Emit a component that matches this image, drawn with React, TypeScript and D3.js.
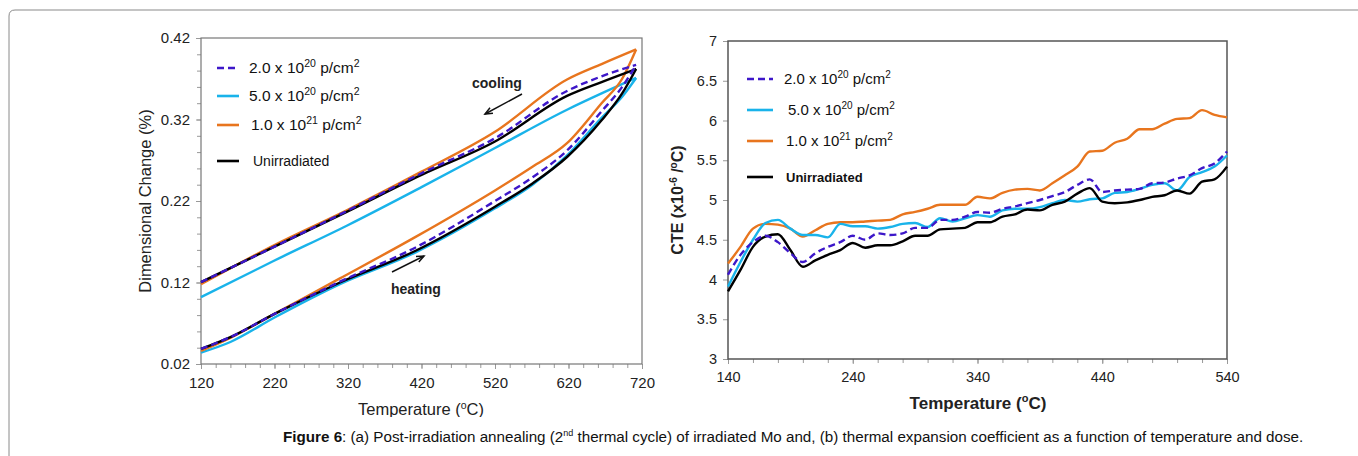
import React, { useEffect, useRef } from "react";
import * as d3 from "d3";

// (a) dimensional change loops, temperature (oC) vs change (%)
const heatT = [120, 160, 220, 309, 412, 520, 571, 618, 665, 693, 712];
const coolT = [712, 665, 618, 520, 420, 319, 220, 120];

const unirrHeat = [0.0385, 0.053, 0.0815, 0.12, 0.159, 0.213, 0.2415, 0.274, 0.319, 0.352, 0.382];
const unirrCool = [0.382, 0.366, 0.349, 0.293, 0.252, 0.207, 0.164, 0.1205];
const d2e20Heat = [0.0385, 0.053, 0.0815, 0.121, 0.163, 0.22, 0.249, 0.282, 0.33, 0.36, 0.387];
const d2e20Cool = [0.387, 0.373, 0.355, 0.297, 0.254, 0.208, 0.164, 0.1205];
const d5e20Heat = [0.034, 0.047, 0.077, 0.118, 0.157, 0.211, 0.24, 0.276, 0.322, 0.348, 0.371];
const d5e20Cool = [0.371, 0.352, 0.332, 0.285, 0.237, 0.19, 0.147, 0.102];
const d1e21Heat = [0.036, 0.052, 0.0815, 0.125, 0.176, 0.233, 0.262, 0.291, 0.34, 0.37, 0.406];
const d1e21Cool = [0.406, 0.388, 0.369, 0.305, 0.256, 0.209, 0.166, 0.118];

// (b) CTE (x10^-6 /oC) from 140 to 540 oC, 10 oC steps
const cteT = d3.range(140, 541, 10);
const cteUnirr = [3.85, 4.12, 4.41, 4.54, 4.57, 4.37, 4.16, 4.24, 4.31, 4.37, 4.46, 4.4, 4.43, 4.43, 4.48, 4.55, 4.55, 4.63, 4.64, 4.65, 4.72, 4.72, 4.79, 4.82, 4.88, 4.87, 4.94, 4.98, 5.08, 5.15, 4.98, 4.96, 4.97, 5.0, 5.04, 5.06, 5.12, 5.08, 5.23, 5.26, 5.42];
const cte1e21 = [4.2, 4.41, 4.64, 4.7, 4.69, 4.64, 4.54, 4.62, 4.7, 4.72, 4.72, 4.73, 4.74, 4.75, 4.82, 4.85, 4.89, 4.94, 4.94, 4.94, 5.04, 5.02, 5.09, 5.13, 5.14, 5.12, 5.21, 5.31, 5.42, 5.61, 5.62, 5.72, 5.77, 5.89, 5.89, 5.96, 6.02, 6.03, 6.13, 6.07, 6.04];
const cte5e20 = [3.91, 4.22, 4.5, 4.71, 4.75, 4.64, 4.56, 4.56, 4.53, 4.7, 4.67, 4.67, 4.64, 4.66, 4.7, 4.71, 4.66, 4.77, 4.73, 4.77, 4.81, 4.79, 4.87, 4.89, 4.89, 4.91, 4.96, 5.0, 4.98, 5.01, 5.02, 5.09, 5.1, 5.14, 5.19, 5.21, 5.12, 5.29, 5.35, 5.42, 5.56];
const cte2e20 = [4.06, 4.31, 4.47, 4.55, 4.47, 4.33, 4.22, 4.33, 4.41, 4.47, 4.55, 4.5, 4.58, 4.56, 4.58, 4.65, 4.65, 4.75, 4.75, 4.79, 4.85, 4.84, 4.89, 4.92, 4.96, 5.0, 5.05, 5.1, 5.19, 5.26, 5.1, 5.12, 5.13, 5.14, 5.21, 5.22, 5.27, 5.31, 5.4, 5.46, 5.61];

const leftYTicks = [0.02, 0.12, 0.22, 0.32, 0.42];
const leftXTicks = [120, 220, 320, 420, 520, 620, 720];
const rightYTicks = [3, 3.5, 4, 4.5, 5, 5.5, 6, 6.5, 7];
const rightXTicks = [140, 240, 340, 440, 540];

const PURPLE = "#3d17c9";
const BLUE = "#19b3ea";
const ORANGE = "#e8751e";
const BLACK = "#000";
const FONT = "'Liberation Sans', Arial, sans-serif";

const App = () => {
  const ref = useRef<SVGSVGElement>(null);

  useEffect(() => {
    const svg = d3.select(ref.current);
    svg.selectAll("*").remove();

    // page frame
    svg.append("path")
      .attr("d", "M9,456 L9,16 Q9,10 15,10")
      .attr("fill", "none").attr("stroke", "#8a8a8a").attr("stroke-width", 1);
    svg.append("line")
      .attr("x1", 15).attr("x2", 1358).attr("y1", 10).attr("y2", 10)
      .attr("stroke", "#c4c4c4").attr("stroke-width", 2);

    const defs = svg.append("defs");
    defs.append("clipPath").attr("id", "cutA")
      .append("rect").attr("x", 0).attr("y", 0).attr("width", 680).attr("height", 417);

    // ---------- (a) ----------
    const a = svg.append("g").attr("clip-path", "url(#cutA)");
    const xa = d3.scaleLinear().domain([120, 720]).range([201, 642]);
    const ya = d3.scaleLinear().domain([0.02, 0.42]).range([364, 38]);

    const axA = a.append("g");
    axA.append("g").attr("transform", "translate(0,364)")
      .call(d3.axisBottom(xa).tickValues(d3.range(120, 721, 20)).tickSize(4).tickFormat(() => ""))
      .call((g) => g.select(".domain").remove());
    axA.append("g").attr("transform", "translate(0,364)")
      .call(d3.axisBottom(xa).tickValues(leftXTicks).tickSize(5).tickPadding(8).tickFormat(d3.format("d")))
      .call((g) => g.select(".domain").remove());
    axA.append("g").attr("transform", "translate(201,0)")
      .call(d3.axisLeft(ya).tickValues(d3.range(0.02, 0.4201, 0.02)).tickSize(4).tickFormat(() => ""))
      .call((g) => g.select(".domain").remove());
    axA.append("g").attr("transform", "translate(201,0)")
      .call(d3.axisLeft(ya).tickValues(leftYTicks).tickSize(5).tickPadding(6).tickFormat(d3.format(".2f")))
      .call((g) => g.select(".domain").remove());
    axA.selectAll(".tick line").attr("stroke", "#999");
    axA.selectAll(".tick text").attr("font-size", 15).attr("fill", "#222").attr("font-family", FONT);

    a.append("rect").attr("x", 201).attr("y", 38).attr("width", 441).attr("height", 326)
      .attr("fill", "none").attr("stroke", "#777").attr("stroke-width", 1.2);

    const loops = [
      { heat: d5e20Heat, cool: d5e20Cool, color: BLUE, dash: null },
      { heat: d1e21Heat, cool: d1e21Cool, color: ORANGE, dash: null },
      { heat: unirrHeat, cool: unirrCool, color: BLACK, dash: null },
      { heat: d2e20Heat, cool: d2e20Cool, color: PURPLE, dash: "7,4" },
    ];
    loops.forEach((s) => {
      [
        { t: heatT, v: s.heat },
        { t: coolT.slice().reverse(), v: s.cool.slice().reverse() },
      ].forEach((seg) => {
        const l = d3.line<number>()
          .x((_, i) => xa(seg.t[i]))
          .y((d) => ya(d))
          .curve(d3.curveMonotoneX);
        a.append("path").attr("d", l(seg.v) || "")
          .attr("fill", "none").attr("stroke", s.color)
          .attr("stroke-width", 2.4)
          .attr("stroke-dasharray", s.dash);
      });
    });

    // legend (a)
    const legA = [
      { label: "2.0 x 10", sup: "20", tail: " p/cm", color: PURPLE, dash: "7,4" },
      { label: "5.0 x 10", sup: "20", tail: " p/cm", color: BLUE, dash: null },
      { label: "1.0 x 10", sup: "21", tail: " p/cm", color: ORANGE, dash: null },
    ];
    const legAy = [68, 96, 125];
    legA.forEach((d, i) => {
      a.append("line").attr("x1", 217).attr("x2", 239).attr("y1", legAy[i]).attr("y2", legAy[i])
        .attr("stroke", d.color).attr("stroke-width", 2.6).attr("stroke-dasharray", d.dash);
      const t = a.append("text").attr("x", 249 + (i === 2 ? 2 : 0)).attr("y", legAy[i] + 5)
        .attr("font-family", FONT).attr("font-size", 15.5).attr("fill", "#111");
      t.append("tspan").text(d.label);
      t.append("tspan").attr("dy", -6).attr("font-size", 10.5).text(d.sup);
      t.append("tspan").attr("dy", 6).text(d.tail);
      t.append("tspan").attr("dy", -6).attr("font-size", 10.5).text("2");
    });
    a.append("line").attr("x1", 217).attr("x2", 239).attr("y1", 161).attr("y2", 161)
      .attr("stroke", BLACK).attr("stroke-width", 2.6);
    a.append("text").attr("x", 253).attr("y", 166).attr("font-family", FONT)
      .attr("font-size", 14).attr("fill", "#111").text("Unirradiated");

    // annotations
    const arrow = (x1: number, y1: number, x2: number, y2: number) => {
      a.append("line").attr("x1", x1).attr("y1", y1).attr("x2", x2).attr("y2", y2)
        .attr("stroke", "#111").attr("stroke-width", 1.5);
      const ang = Math.atan2(y2 - y1, x2 - x1);
      const p = [
        [x2 - 8 * Math.cos(ang - 0.4), y2 - 8 * Math.sin(ang - 0.4)],
        [x2, y2],
        [x2 - 8 * Math.cos(ang + 0.4), y2 - 8 * Math.sin(ang + 0.4)],
      ];
      a.append("polyline").attr("points", p.map((q) => q.join(",")).join(" "))
        .attr("fill", "none").attr("stroke", "#111").attr("stroke-width", 1.5);
    };
    a.append("text").attr("x", 472).attr("y", 88).attr("font-family", FONT)
      .attr("font-size", 14).attr("font-weight", "bold").attr("fill", "#222").text("cooling");
    arrow(522, 94, 485, 114);
    a.append("text").attr("x", 391).attr("y", 294).attr("font-family", FONT)
      .attr("font-size", 14).attr("font-weight", "bold").attr("fill", "#222").text("heating");
    arrow(392, 272, 424, 256);

    a.append("text").attr("transform", "translate(151,201) rotate(-90)")
      .attr("text-anchor", "middle").attr("font-family", FONT).attr("font-size", 16.5)
      .attr("fill", "#222").text("Dimensional Change (%)");
    const xl = a.append("text").attr("x", 421).attr("y", 415).attr("text-anchor", "middle")
      .attr("font-family", FONT).attr("font-size", 16.5).attr("fill", "#222");
    xl.append("tspan").text("Temperature (");
    xl.append("tspan").attr("dy", -6).attr("font-size", 10.5).text("o");
    xl.append("tspan").attr("dy", 6).text("C)");

    // ---------- (b) ----------
    const b = svg.append("g");
    const xb = d3.scaleLinear().domain([140, 540]).range([728, 1227]);
    const yb = d3.scaleLinear().domain([3, 7]).range([359, 41]);

    const axB = b.append("g");
    axB.append("g").attr("transform", "translate(0,359)")
      .call(d3.axisBottom(xb).tickValues(d3.range(140, 541, 20)).tickSize(4).tickFormat(() => ""))
      .call((g) => g.select(".domain").remove());
    axB.append("g").attr("transform", "translate(0,359)")
      .call(d3.axisBottom(xb).tickValues(rightXTicks).tickSize(5).tickPadding(8).tickFormat(d3.format("d")))
      .call((g) => g.select(".domain").remove());
    axB.append("g").attr("transform", "translate(728,0)")
      .call(d3.axisLeft(yb).tickValues(rightYTicks).tickSize(5).tickPadding(6).tickFormat((d) => String(d)))
      .call((g) => g.select(".domain").remove());
    axB.selectAll(".tick line").attr("stroke", "#999");
    axB.selectAll(".tick text").attr("font-size", 14.5).attr("fill", "#222").attr("font-family", FONT);

    b.append("rect").attr("x", 728).attr("y", 41).attr("width", 499).attr("height", 318)
      .attr("fill", "none").attr("stroke", "#555").attr("stroke-width", 1.5);

    const cteSeries = [
      { v: cte1e21, color: ORANGE, dash: null },
      { v: cte5e20, color: BLUE, dash: null },
      { v: cteUnirr, color: BLACK, dash: null },
      { v: cte2e20, color: PURPLE, dash: "7,4" },
    ];
    const lineB = d3.line<number>()
      .x((_, i) => xb(cteT[i]))
      .y((d) => yb(d))
      .curve(d3.curveMonotoneX);
    cteSeries.forEach((s) => {
      b.append("path").attr("d", lineB(s.v) || "")
        .attr("fill", "none").attr("stroke", s.color).attr("stroke-width", 2.4)
        .attr("stroke-dasharray", s.dash);
    });

    const legBy = [79, 110, 141];
    legA.forEach((d, i) => {
      b.append("line").attr("x1", 747).attr("x2", 773).attr("y1", legBy[i]).attr("y2", legBy[i])
        .attr("stroke", d.color).attr("stroke-width", 2.6).attr("stroke-dasharray", d.dash);
      const t = b.append("text").attr("x", 784 + (i === 1 ? 4 : 0) + (i === 2 ? 2 : 0)).attr("y", legBy[i] + 5)
        .attr("font-family", FONT).attr("font-size", 15).attr("fill", "#111");
      t.append("tspan").text(d.label);
      t.append("tspan").attr("dy", -6).attr("font-size", 10).text(d.sup);
      t.append("tspan").attr("dy", 6).text(d.tail);
      t.append("tspan").attr("dy", -6).attr("font-size", 10).text("2");
    });
    b.append("line").attr("x1", 747).attr("x2", 773).attr("y1", 177).attr("y2", 177)
      .attr("stroke", BLACK).attr("stroke-width", 2.6);
    b.append("text").attr("x", 786).attr("y", 182).attr("font-family", FONT)
      .attr("font-size", 13).attr("font-weight", "bold").attr("fill", "#111").text("Unirradiated");

    const yl = b.append("text").attr("transform", "translate(683,200) rotate(-90)")
      .attr("text-anchor", "middle").attr("font-family", FONT).attr("font-size", 16)
      .attr("font-weight", "bold").attr("fill", "#222");
    yl.append("tspan").text("CTE (x10");
    yl.append("tspan").attr("dy", -6).attr("font-size", 10).text("-6");
    yl.append("tspan").attr("dy", 6).text(" /");
    yl.append("tspan").attr("dy", -6).attr("font-size", 10).text("o");
    yl.append("tspan").attr("dy", 6).text("C)");

    const xbl = b.append("text").attr("x", 978).attr("y", 409).attr("text-anchor", "middle")
      .attr("font-family", FONT).attr("font-size", 17).attr("font-weight", "bold").attr("fill", "#222");
    xbl.append("tspan").text("Temperature (");
    xbl.append("tspan").attr("dy", -7).attr("font-size", 11).text("o");
    xbl.append("tspan").attr("dy", 7).text("C)");

    // caption
    const cap = svg.append("text").attr("x", 283).attr("y", 442)
      .attr("font-family", FONT).attr("font-size", 15.2).attr("fill", "#111");
    cap.append("tspan").attr("font-weight", "bold").text("Figure 6");
    cap.append("tspan").text(": (a) Post-irradiation annealing (2");
    cap.append("tspan").attr("dy", -6).attr("font-size", 9).text("nd");
    cap.append("tspan").attr("dy", 6)
      .text(" thermal cycle) of irradiated Mo and, (b) thermal expansion coefficient as a function of temperature and dose.");
  }, []);

  return (
    <svg
      ref={ref}
      width={1358}
      height={456}
      style={{ position: "absolute", left: 0, top: 0, background: "#fff" }}
    />
  );
};

export default App;
